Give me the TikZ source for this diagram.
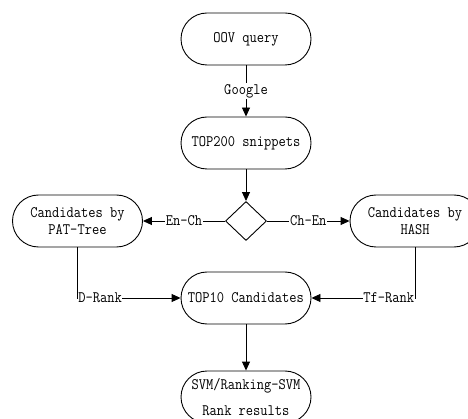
\documentclass[tikz,border=0pt]{standalone}
\usepackage{fontspec}
\setmonofont[FakeStretch=0.88]{Latin Modern Mono}
\usetikzlibrary{shapes.geometric,arrows.meta}
\begin{document}
\begin{tikzpicture}[x=1pt,y=-1pt,
  txt/.style={font=\ttfamily\fontsize{16}{17.5}\selectfont},
  box/.style={txt,draw,line width=0.9pt,rectangle,rounded corners=26pt,minimum width=130pt,minimum height=52pt,inner sep=0pt,align=center},
  dia/.style={draw,line width=0.9pt,diamond,minimum width=41pt,minimum height=39pt,inner sep=0pt},
  conn/.style={line width=0.9pt,-{Triangle[length=9pt,width=8pt]}},
  lbl/.style={txt,fill=white,inner sep=1pt}]
\useasboundingbox (0,0) rectangle (468,419);
\node[box] (oov) at (246,39) {OOV query};
\node[box] (top200) at (246,143) {TOP200 snippets};
\node[dia] (d) at (246,221) {};
\node[box] (left) at (77.5,221) {Candidates by\\PAT-Tree};
\node[box] (right) at (415,221) {Candidates by\\HASH};
\node[box] (top10) at (246,298) {TOP10 Candidates};
\node[box] (svm) at (246,397) {SVM/Ranking-SVM\\[8pt]Rank results};
\draw[conn] (oov) -- node[lbl] {Google} (top200);
\draw[conn] (top200) -- (d);
\draw[conn] (d) -- node[lbl] {En-Ch} (left);
\draw[conn] (d) -- node[lbl] {Ch-En} (right);
\draw[conn] (left) |- node[lbl,pos=0.5,anchor=west,inner xsep=0.5pt] {D-Rank} (top10);
\draw[conn] (right) |- node[lbl,pos=0.5,anchor=east,inner xsep=0.5pt] {Tf-Rank} (top10);
\draw[conn] (top10) -- (svm);
\end{tikzpicture}
\end{document}
